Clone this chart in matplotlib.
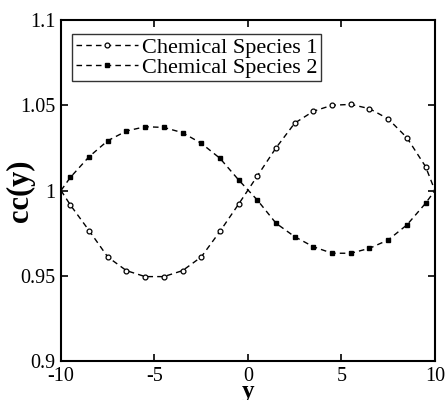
import numpy as np
import matplotlib.pyplot as plt

# values
y_pos = [-10, -9.5, -8.5, -7.5, -6.5, -5.5, -4.5, -3.5, -2.5, -1.5, -0.5,
         0.5, 1.5, 2.5, 3.5, 4.5, 5.5, 6.5, 7.5, 8.5, 9.5, 10]
species1 = [1.0, 0.9915, 0.9765, 0.9610, 0.9530, 0.9495, 0.9495, 0.9530,
            0.9610, 0.9760, 0.9920, 1.0085, 1.0250, 1.0395, 1.0465, 1.0500,
            1.0505, 1.0480, 1.0420, 1.0310, 1.0140, 1.0]
species2 = [1.0, 1.0077, 1.0198, 1.0292, 1.0349, 1.0374, 1.0370, 1.0339,
            1.0277, 1.0189, 1.0062, 0.9944, 0.9808, 0.9729, 0.9670, 0.9632,
            0.9632, 0.9661, 0.9710, 0.9798, 0.9925, 1.0]
names = ['Chemical Species 1', 'Chemical Species 2']

plt.rcParams['font.family'] = 'Liberation Serif'

fig = plt.figure(figsize=(4.47, 4.0), dpi=100)
ax = fig.add_axes([0.1365, 0.0975, 0.8365, 0.8525])

ax.plot(y_pos, species1, color='black', ls=(0, (4, 3)), lw=1.0,
        marker='o', ms=3.5, mfc='white', mec='black', mew=0.9,
        markevery=slice(1, -1), label=names[0])
ax.plot(y_pos, species2, color='black', ls=(0, (4, 3)), lw=1.0,
        marker='s', ms=3.2, mfc='black', mec='black',
        markevery=slice(1, -1), label=names[1])

ax.set_xlim(-10, 10)
ax.set_ylim(0.9, 1.1)
ax.set_xticks([-10, -5, 0, 5, 10])
ax.set_xticklabels(['-10', '-5', '0', '5', '10'])
ax.set_yticks([0.9, 0.95, 1.0, 1.05, 1.1])
ax.set_yticklabels(['0.9', '0.95', '1', '1.05', '1.1'])
ax.tick_params(direction='in', length=5, width=1.2, labelsize=14.5,
               top=True, right=True)
ax.tick_params(axis='x', pad=4)
ax.tick_params(axis='y', pad=4)
for s in ax.spines.values():
    s.set_linewidth(1.5)

ax.set_xlabel('y', fontsize=18, fontweight='bold', labelpad=-4)
ax.set_ylabel('cc(y)', fontsize=22, fontweight='bold')
ax.yaxis.set_label_coords(-0.07, 0.5)

leg = ax.legend(loc='upper left', fontsize=16, handlelength=2.8,
                frameon=True, fancybox=False, borderpad=0.15,
                labelspacing=0.0, handletextpad=0.2, borderaxespad=0,
                bbox_to_anchor=(0.03, 0.96))
leg.get_frame().set_edgecolor('black')
leg.get_frame().set_linewidth(1.0)

plt.savefig('out.png', dpi=100)
